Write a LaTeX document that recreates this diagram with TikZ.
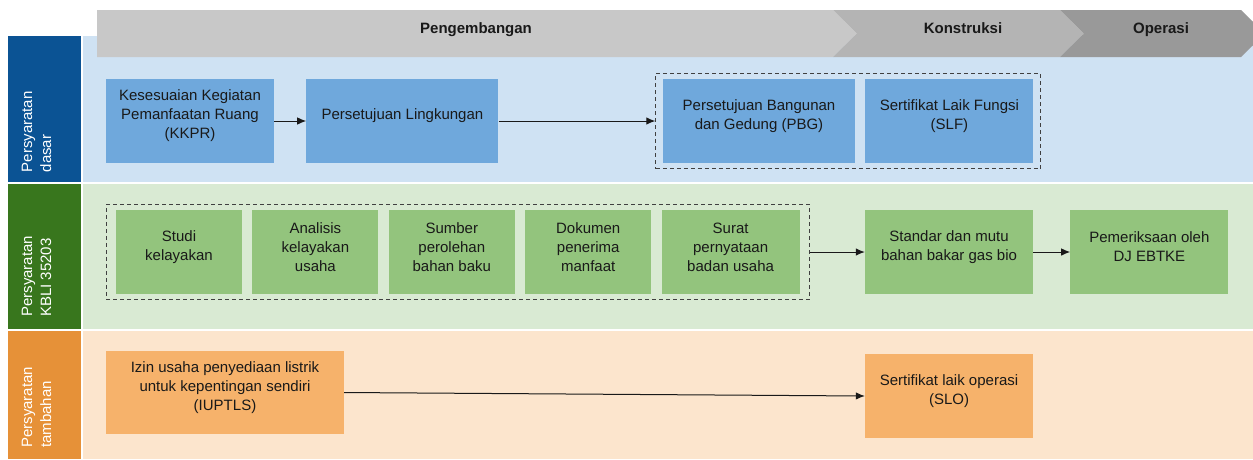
\documentclass[tikz,border=0pt]{standalone}
\usepackage{fontspec}
\setmainfont{Liberation Sans}
\usepackage{tikz}
\usepackage{xcolor}
\usetikzlibrary{positioning,fit,arrows.meta}
\definecolor{hdrA}{HTML}{C8C8C8}
\definecolor{hdrB}{HTML}{B4B4B4}
\definecolor{hdrC}{HTML}{999999}
\definecolor{rowblue}{HTML}{0B5394}
\definecolor{rowgreen}{HTML}{38761D}
\definecolor{roworange}{HTML}{E69138}
\definecolor{bgblue}{HTML}{CFE2F3}
\definecolor{bggreen}{HTML}{D9EAD3}
\definecolor{bgorange}{HTML}{FCE5CD}
\definecolor{boxblue}{HTML}{6FA8DC}
\definecolor{boxgreen}{HTML}{93C47D}
\definecolor{boxorange}{HTML}{F6B26B}
\definecolor{dashgray}{HTML}{404040}
\tikzset{
  >={Latex[length=9pt,width=7.5pt]},
  itembox/.style={rectangle, minimum height=84pt, inner sep=0pt},
  bluebox/.style={itembox, fill=boxblue},
  greenbox/.style={itembox, fill=boxgreen},
  orangebox/.style={itembox, fill=boxorange},
  boxtext/.style={align=center, yshift=5pt, inner sep=0pt, text=black!90},
  groupbox/.style={draw=dashgray, line width=1pt, dash pattern=on 4pt off 3pt, inner ysep=5.5pt},
  rowtitle/.style={rotate=90, anchor=north west, align=left, text=white, inner sep=0pt},
  phasetext/.style={anchor=base, font=\fontsize{15}{19}\selectfont\bfseries, text=black!90},
  myarrow/.style={draw=black!90, line width=1pt, ->},
}
\begin{document}
\begin{tikzpicture}[x=1pt, y=-1pt, font=\fontsize{15}{19}\selectfont]
  \useasboundingbox (0,0) rectangle (1253,459);
  \clip (0,0) rectangle (1253,459);

  \fill[rowblue] (8,36) rectangle (81,182);
  \fill[rowgreen] (8,183.5) rectangle (81,329);
  \fill[roworange] (8,330.5) rectangle (81,459);
  \fill[bgblue] (83,36) rectangle (1253,182);
  \fill[bggreen] (83,183.5) rectangle (1253,329);
  \fill[bgorange] (83,330.5) rectangle (1253,459);

  \fill[hdrA] (97,10) -- (833,10) -- (857,33.5) -- (833,57) -- (97,57) -- cycle;
  \fill[hdrB] (833,10) -- (1060,10) -- (1084,33.5) -- (1060,57) -- (833,57) -- (857,33.5) -- cycle;
  \fill[hdrC] (1060,10) -- (1241,10) -- (1265,33.5) -- (1241,57) -- (1060,57) -- (1084,33.5) -- cycle;
  \node[phasetext] (phase1) at (476,33) {Pengembangan};
  \node[phasetext] (phase2) at (963,33) {Konstruksi};
  \node[phasetext] (phase3) at (1161,33) {Operasi};

  \node[rowtitle] (row1) at (21.5,172.5) {Persyaratan\\dasar};
  \node[rowtitle] (row2) at (21.5,317) {Persyaratan\\KBLI 35203};
  \node[rowtitle] (row3) at (21.5,448) {Persyaratan\\tambahan};

  \node[bluebox, minimum width=168pt, label={[boxtext]center:{Kesesuaian Kegiatan\\Pemanfaatan Ruang\\(KKPR)}}] (item1) at (190,121) {};
  \node[bluebox, minimum width=192pt, right=32pt of item1, label={[boxtext]center:{Persetujuan Lingkungan}}] (item2) {};
  \node[bluebox, minimum width=192pt, label={[boxtext]center:{Persetujuan Bangunan\\dan Gedung (PBG)}}] (item3) at (759,121) {};
  \node[bluebox, minimum width=168pt, right=10pt of item3, label={[boxtext]center:{Sertifikat Laik Fungsi\\(SLF)}}] (item4) {};
  \node[groupbox, fit=(item3)(item4), inner xsep=7pt] (grp1) {};

  \node[greenbox, minimum width=126pt, label={[boxtext]center:{Studi\\kelayakan}}] (item5) at (179,252) {};
  \node[greenbox, minimum width=126pt, right=10pt of item5, label={[boxtext]center:{Analisis\\kelayakan\\usaha}}] (item6) {};
  \node[greenbox, minimum width=126pt, right=10pt of item6, label={[boxtext]center:{Sumber\\perolehan\\bahan baku}}] (item7) {};
  \node[greenbox, minimum width=126pt, right=10pt of item7, label={[boxtext]center:{Dokumen\\penerima\\manfaat}}] (item8) {};
  \node[greenbox, minimum width=138pt, right=10pt of item8, label={[boxtext]center:{Surat\\pernyataan\\badan usaha}}] (item9) {};
  \node[groupbox, fit=(item5)(item9), inner xsep=9.5pt] (grp2) {};
  \node[greenbox, minimum width=168pt, label={[boxtext]center:{Standar dan mutu\\bahan bakar gas bio}}] (item10) at (949,252) {};
  \node[greenbox, minimum width=158pt, right=37pt of item10, label={[boxtext]center:{Pemeriksaan oleh\\DJ EBTKE}}] (item11) {};

  \node[orangebox, minimum width=238pt, minimum height=83pt, label={[boxtext]center:{Izin usaha penyediaan listrik\\untuk kepentingan sendiri\\(IUPTLS)}}] (item12) at (225,392.5) {};
  \node[orangebox, minimum width=168pt, label={[boxtext]center:{Sertifikat laik operasi\\(SLO)}}] (item13) at (949,396) {};

  \path[myarrow] (item1) -- (item2);
  \path[myarrow] (item2.east) -- (item2.east -| grp1.west);
  \path[myarrow] (grp2.east) -- (grp2.east -| item10.west);
  \path[myarrow] (item10) -- (item11);
  \path[myarrow] (item12.east) -- (item13.west);
\end{tikzpicture}
\end{document}
